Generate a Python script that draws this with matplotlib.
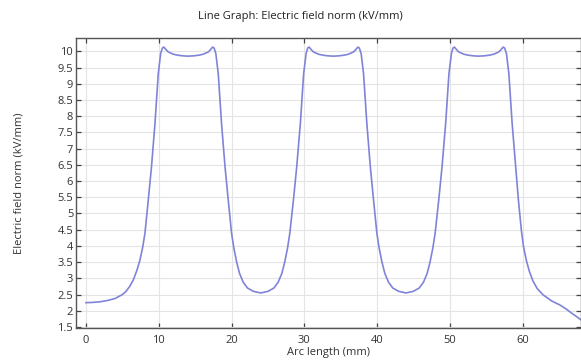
import matplotlib
matplotlib.use("Agg")
import matplotlib.pyplot as plt
import numpy as np

# arc length (mm) and field norm (kV/mm)
arc_mm = [
    0.0, 1.0, 2.0, 3.0, 4.0, 5.0, 5.5, 6.0, 6.5, 7.0, 7.4, 7.8, 8.1, 8.56, 9.0,
    9.48, 9.93, 10.26, 10.5, 10.7, 11.0, 11.3, 12.0, 12.6, 13.3, 14.05, 14.8,
    15.5, 16.1, 16.8, 17.1, 17.4, 17.6, 17.84, 18.17, 18.62, 19.1, 19.54, 20.0,
    20.3, 20.7, 21.1, 21.6, 22.2, 23.0, 24.0, 25.0, 25.8, 26.4, 26.9, 27.3,
    27.7, 28.0, 28.5, 28.95, 29.45, 29.9, 30.24, 30.45, 30.65, 30.95, 31.25,
    31.95, 32.55, 33.25, 34.0, 34.75, 35.45, 36.05, 36.75, 37.05, 37.35, 37.55,
    37.8, 38.13, 38.58, 39.06, 39.5, 39.96, 40.26, 40.66, 41.06, 41.56, 42.16,
    42.96, 43.96, 44.96, 45.76, 46.36, 46.86, 47.26, 47.66, 47.96, 48.46,
    48.91, 49.41, 49.86, 50.2, 50.41, 50.61, 50.91, 51.21, 51.91, 52.51,
    53.21, 53.96, 54.71, 55.41, 56.01, 56.71, 57.01, 57.31, 57.51, 57.76,
    58.09, 58.54, 59.02, 59.4, 59.8, 60.1, 60.5, 60.9, 61.4, 62.0, 62.8,
    64.0, 65.1, 66.0, 66.7, 67.4, 68.0,
]
field_kv = [
    2.25, 2.26, 2.28, 2.32, 2.38, 2.50, 2.60, 2.75, 2.95, 3.25, 3.55, 3.97,
    4.39, 5.42, 6.44, 7.78, 9.31, 9.93, 10.10, 10.13, 10.05, 9.98, 9.91, 9.88,
    9.86, 9.85, 9.86, 9.88, 9.91, 9.98, 10.05, 10.13, 10.10, 9.93, 9.31, 7.78,
    6.44, 5.42, 4.39, 3.95, 3.50, 3.15, 2.88, 2.70, 2.60, 2.55, 2.60, 2.70,
    2.88, 3.15, 3.50, 3.95, 4.39, 5.42, 6.44, 7.78, 9.31, 9.93, 10.10, 10.13,
    10.05, 9.98, 9.91, 9.88, 9.86, 9.85, 9.86, 9.88, 9.91, 9.98, 10.05, 10.13,
    10.10, 9.93, 9.31, 7.78, 6.44, 5.42, 4.39, 3.95, 3.50, 3.15, 2.88, 2.70,
    2.60, 2.55, 2.60, 2.70, 2.88, 3.15, 3.50, 3.95, 4.39, 5.42, 6.44, 7.78,
    9.31, 9.93, 10.10, 10.13, 10.05, 9.98, 9.91, 9.88, 9.86, 9.85, 9.86, 9.88,
    9.91, 9.98, 10.05, 10.13, 10.10, 9.93, 9.31, 7.78, 6.44, 5.42, 4.50, 3.98,
    3.55, 3.22, 2.92, 2.68, 2.49, 2.30, 2.18, 2.05, 1.93, 1.82, 1.72,
]

x_ticks = [0, 10, 20, 30, 40, 50, 60]
y_ticks = [1.5, 2, 2.5, 3, 3.5, 4, 4.5, 5, 5.5, 6, 6.5, 7, 7.5, 8, 8.5, 9, 9.5, 10]
y_tick_labels = ["1.5", "2", "2.5", "3", "3.5", "4", "4.5", "5", "5.5", "6",
                 "6.5", "7", "7.5", "8", "8.5", "9", "9.5", "10"]

plt.rcParams['font.family'] = ['Open Sans', 'DejaVu Sans']

fig = plt.figure(figsize=(5.81, 3.6), dpi=100)
ax = fig.add_axes([76 / 581, 32 / 360, 505 / 581, 290 / 360])

ax.plot(arc_mm, field_kv, color='#7f84d8', lw=1.2)

ax.set_xlim(-1.37, 68.0)
ax.set_ylim(1.47, 10.41)
ax.set_xticks(x_ticks)
ax.set_yticks(y_ticks)
ax.set_yticklabels(y_tick_labels)

ax.grid(True, color='#e4e4e4', lw=0.8)
ax.set_axisbelow(True)
ax.tick_params(direction='in', length=3.5, width=0.9, color='#444444',
               labelsize=8, labelcolor='#333333', top=True, right=True, pad=2)
ax.tick_params(axis='x', pad=5)
for s in ax.spines.values():
    s.set_color('#555555')
    s.set_linewidth(1.0)

ax.set_xlabel('Arc length (mm)', fontsize=8, color='#333333', labelpad=1)
ax.set_ylabel('Electric field norm (kV/mm)', fontsize=8, color='#333333', labelpad=24)
fig.text(300 / 581, 1 - 17 / 360, 'Line Graph: Electric field norm (kV/mm)',
         ha='center', va='center', fontsize=8, color='#222222')

fig.savefig('out.png', dpi=100)
